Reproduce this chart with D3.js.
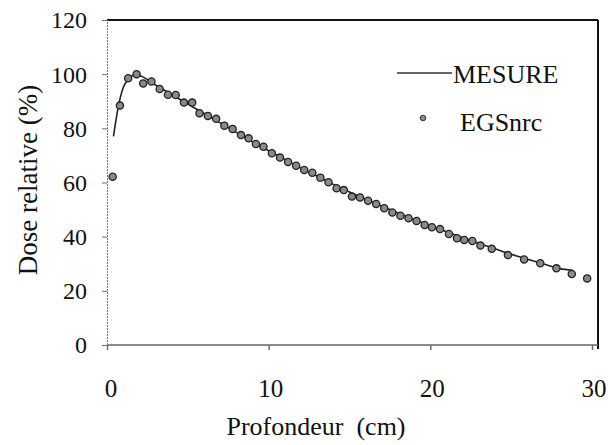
<!DOCTYPE html>
<html>
<head>
<meta charset="utf-8">
<script src="https://cdn.jsdelivr.net/npm/d3@7"></script>
<style>
  html, body { margin: 0; padding: 0; background: #fff; }
  svg text { font-family: "Liberation Serif", "Times New Roman", serif; fill: #111; }
</style>
</head>
<body>
<div id="chart"></div>
<script>
// Measured depth-dose curve (MESURE)
const mesureX = [0.4, 0.7, 1.0, 1.3, 1.7, 2.0, 3, 4, 5, 6, 7, 8, 9, 10, 11, 12, 13, 14, 15, 16, 17, 18, 19, 20, 21, 22, 23, 24, 25, 26, 27, 28, 28.8];
const mesureY = [77, 88, 95, 98, 99.7, 99.5, 96, 92.5, 89, 85.5, 82, 78.5, 75, 71.7, 68.5, 65.3, 62.3, 59.3, 56.5, 53.8, 51.2, 48.7, 46.3, 44, 41.8, 39.6, 37.5, 35.5, 33.5, 31.7, 29.9, 28.2, 27.6];

// Monte Carlo points (EGSnrc)
const egsX = [0.35, 0.8, 1.31, 1.83, 2.24, 2.75, 3.26, 3.77, 4.25, 4.76, 5.27, 5.72, 6.24, 6.75, 7.26, 7.77, 8.29, 8.76, 9.21, 9.68, 10.2, 10.7, 11.2, 11.7, 12.2, 12.7, 13.2, 13.7, 14.2, 14.65, 15.15, 15.65, 16.15, 16.65, 17.15, 17.65, 18.15, 18.65, 19.15, 19.65, 20.1, 20.6, 21.15, 21.65, 22.1, 22.6, 23.1, 23.8, 24.8, 25.8, 26.8, 27.8, 28.75, 29.7];
const egsY = [62.1, 88.4, 98.5, 100, 96.6, 97.3, 94.5, 92.4, 92.3, 89.5, 89.5, 85.6, 84.6, 83.5, 81.0, 79.8, 77.5, 76.3, 74.2, 73.2, 70.8, 69.2, 67.6, 66.2, 64.6, 63.6, 61.8, 60.1, 57.9, 57.2, 54.8, 54.5, 53.3, 52.1, 50.5, 48.9, 47.7, 46.8, 45.8, 44.3, 43.5, 42.8, 41.0, 39.4, 38.8, 38.4, 36.7, 35.5, 33.2, 31.6, 30.2, 28.3, 26.2, 24.6];

const xTicks = [0, 10, 20, 30];
const yTicks = [0, 20, 40, 60, 80, 100, 120];

const width = 608, height = 445;
const margin = { left: 107, right: 13, top: 20, bottom: 100 };

const svg = d3.select('#chart').append('svg')
  .attr('width', width)
  .attr('height', height);

const x = d3.scaleLinear().domain([0, 30]).range([margin.left, 592]);
const y = d3.scaleLinear().domain([0, 120]).range([height - margin.bottom, margin.top]);

const plotRight = width - margin.right + 3;

// frame: heavy top and right, lighter axes
svg.append('line')
  .attr('x1', x(0)).attr('x2', plotRight)
  .attr('y1', y(120)).attr('y2', y(120))
  .attr('stroke', '#111').attr('stroke-width', 2.2);
svg.append('line')
  .attr('x1', plotRight).attr('x2', plotRight)
  .attr('y1', y(120)).attr('y2', y(0) + 4)
  .attr('stroke', '#111').attr('stroke-width', 2);

const xAxis = svg.append('g')
  .attr('transform', `translate(0,${y(0)})`)
  .call(d3.axisBottom(x).tickValues(xTicks).tickSize(5).tickFormat(''));
xAxis.select('.domain').attr('d', `M${x(0)},0H${plotRight}`);
xAxis.selectAll('path, line').attr('stroke', '#666').attr('stroke-width', 1.4);

const yAxis = svg.append('g')
  .attr('transform', `translate(${x(0)},0)`)
  .call(d3.axisLeft(y).tickValues(yTicks).tickSize(5).tickFormat(''));
yAxis.selectAll('path, line').attr('stroke', '#777').attr('stroke-width', 1.1);
yAxis.select('.domain').attr('stroke-dasharray', '2,1');

// tick labels
svg.append('g').selectAll('text')
  .data(yTicks)
  .join('text')
  .attr('x', 87)
  .attr('y', d => y(d))
  .attr('dy', '0.35em')
  .attr('text-anchor', 'end')
  .attr('font-size', 24)
  .text(d => d);

svg.append('g').selectAll('text')
  .data(xTicks)
  .join('text')
  .attr('x', d => x(d) + (d === 0 ? 4 : 2))
  .attr('y', 397)
  .attr('text-anchor', 'middle')
  .attr('font-size', 25)
  .text(d => d);

// axis titles
svg.append('text')
  .attr('x', 316)
  .attr('y', 435)
  .attr('text-anchor', 'middle')
  .attr('font-size', 26)
  .attr('xml:space', 'preserve')
  .text('Profondeur  (cm)');

svg.append('text')
  .attr('transform', `translate(37,180) rotate(-90)`)
  .attr('text-anchor', 'middle')
  .attr('font-size', 27)
  .text('Dose relative (%)');

// measured curve
const mesure = mesureX.map((d, i) => [d, mesureY[i]]);
svg.append('path')
  .datum(mesure)
  .attr('fill', 'none')
  .attr('stroke', '#222')
  .attr('stroke-width', 1.6)
  .attr('d', d3.line().x(d => x(d[0])).y(d => y(d[1])).curve(d3.curveMonotoneX));

// EGSnrc points
const egs = egsX.map((d, i) => [d, egsY[i]]);
svg.append('g').selectAll('circle')
  .data(egs)
  .join('circle')
  .attr('cx', d => x(d[0]))
  .attr('cy', d => y(d[1]))
  .attr('r', 3.6)
  .attr('fill', '#8a8a8a')
  .attr('stroke', '#222')
  .attr('stroke-width', 1.3);

// legend
svg.append('line')
  .attr('x1', 397).attr('x2', 452)
  .attr('y1', 73).attr('y2', 73)
  .attr('stroke', '#333').attr('stroke-width', 1.6);
svg.append('text')
  .attr('x', 453).attr('y', 83)
  .attr('font-size', 26)
  .text('MESURE');
svg.append('circle')
  .attr('cx', 423).attr('cy', 118)
  .attr('r', 2.8)
  .attr('fill', '#8a8a8a').attr('stroke', '#333').attr('stroke-width', 1);
svg.append('text')
  .attr('x', 460).attr('y', 131)
  .attr('font-size', 26)
  .text('EGSnrc');
</script>
</body>
</html>
